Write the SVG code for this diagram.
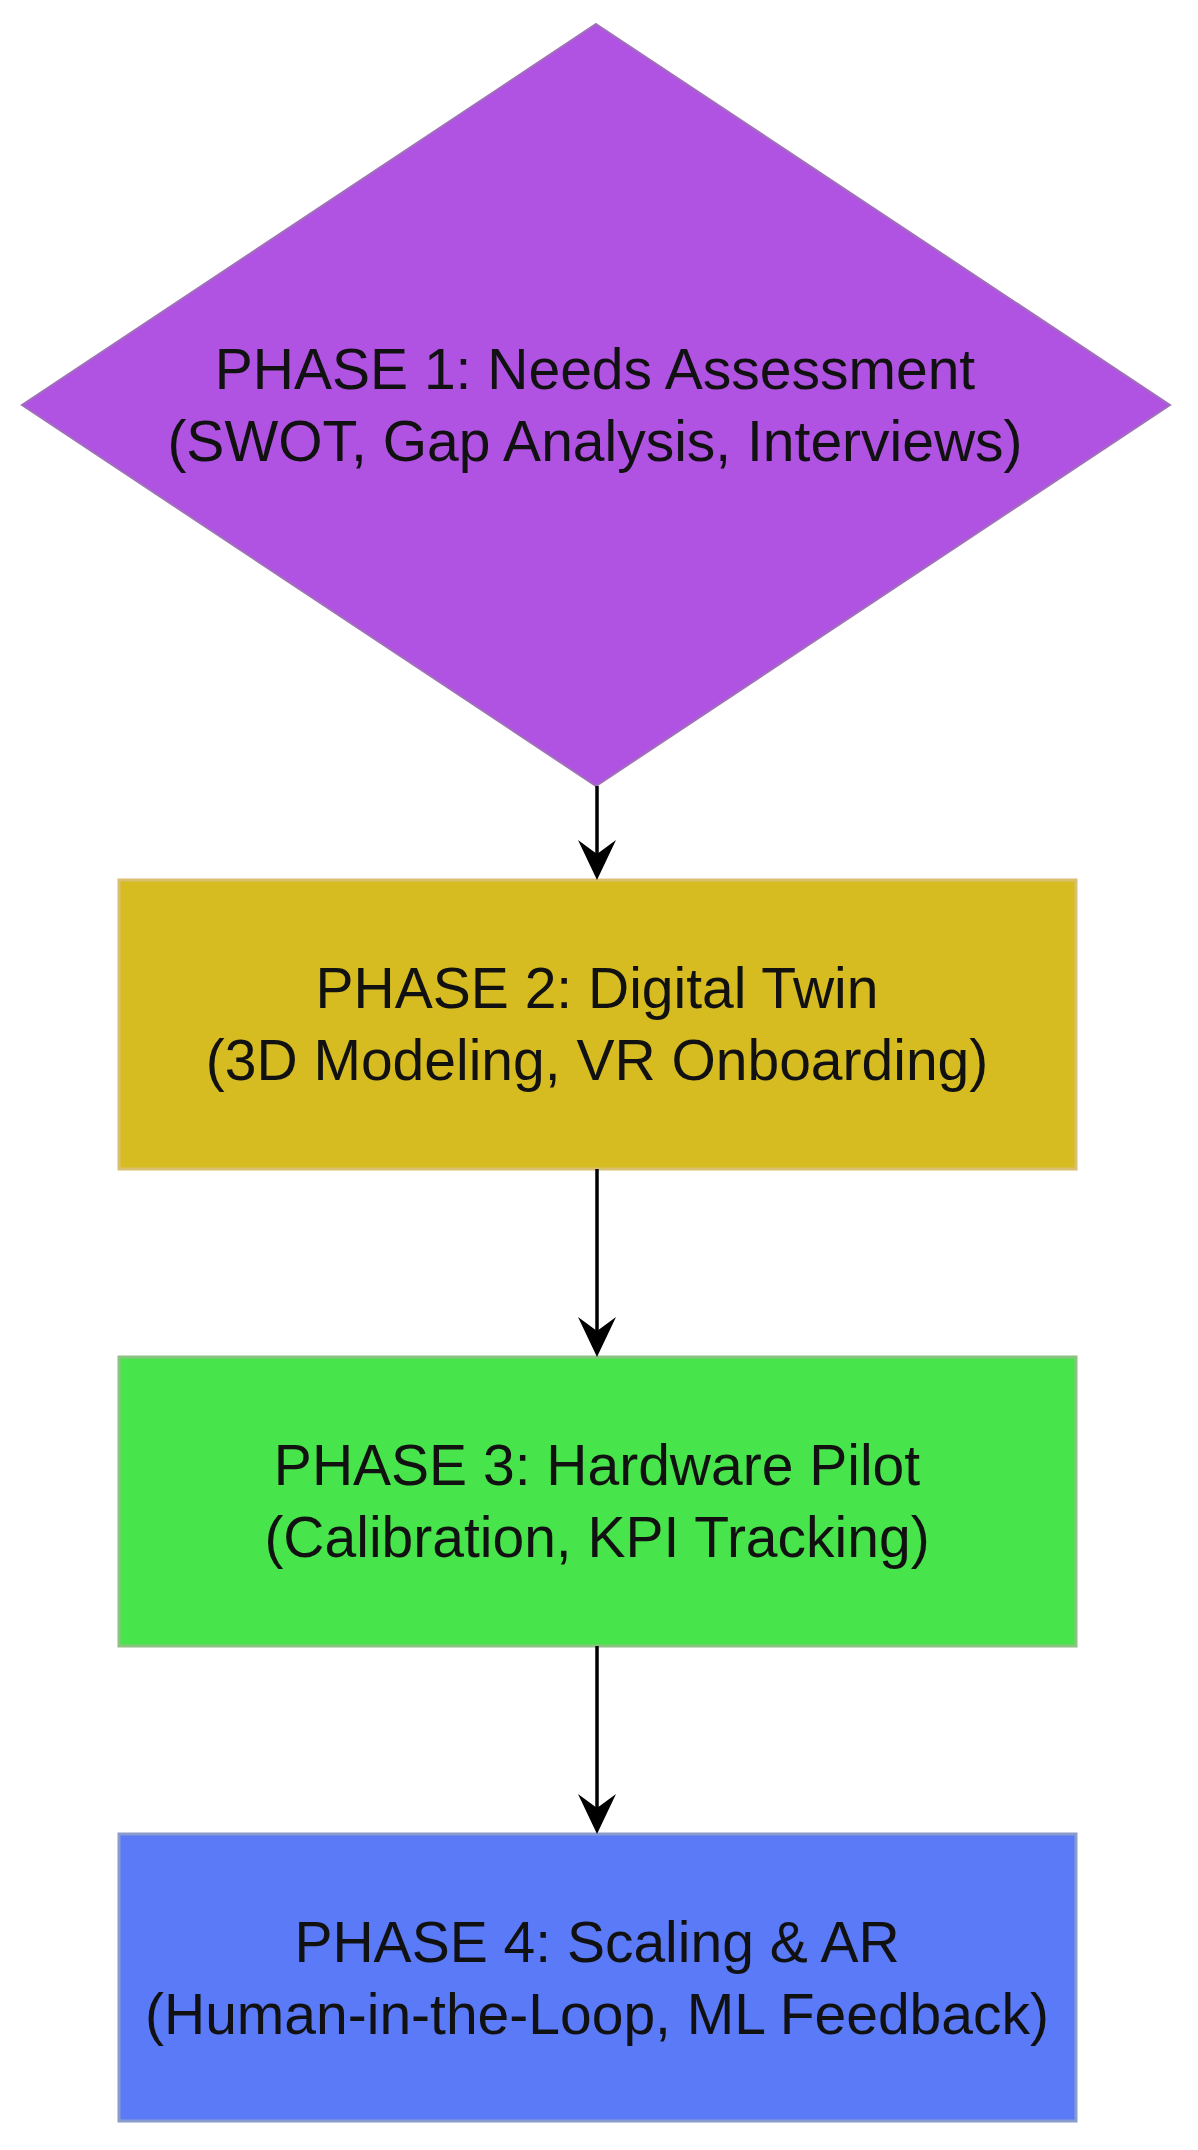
<svg xmlns="http://www.w3.org/2000/svg" width="1198" height="2150" viewBox="0 0 1198 2150">
<style>
.lbl{font-family:"Liberation Sans",Arial,sans-serif;font-size:57px;fill:#111;text-anchor:middle}
.box{stroke-width:3}
.conn{stroke:#000;stroke-width:3.5;fill:none}
</style>
<defs>
<marker id="arr" viewBox="0 0 40 40" refX="20" refY="20" markerWidth="40" markerHeight="40" markerUnits="userSpaceOnUse" orient="auto">
<path d="M0,1 L40,20 L0,39 L14,20 Z" fill="#000"/>
</marker>
</defs>
<rect width="1198" height="2150" fill="#fff"/>
<g id="phase1">
<polygon points="596,24 1170,405 596,786 22,405" fill="#B052E2" stroke="#a070b8" stroke-width="2"/>
<text class="lbl" x="595" y="389">PHASE 1: Needs Assessment</text>
<text class="lbl" x="595" y="461">(SWOT, Gap Analysis, Interviews)</text>
</g>
<g id="phase2">
<rect class="box" x="119" y="880" width="957" height="289" fill="#D6BC20" stroke="#D9C070"/>
<text class="lbl" x="597" y="1008">PHASE 2: Digital Twin</text>
<text class="lbl" x="597" y="1080">(3D Modeling, VR Onboarding)</text>
</g>
<g id="phase3">
<rect class="box" x="119" y="1357" width="957" height="289" fill="#48E44C" stroke="#8CC282"/>
<text class="lbl" x="597" y="1485">PHASE 3: Hardware Pilot</text>
<text class="lbl" x="597" y="1557">(Calibration, KPI Tracking)</text>
</g>
<g id="phase4">
<rect class="box" x="119" y="1834" width="957" height="287" fill="#5A7AF7" stroke="#8A9CCC"/>
<text class="lbl" x="597" y="1962">PHASE 4: Scaling &amp; AR</text>
<text class="lbl" x="597" y="2034">(Human-in-the-Loop, ML Feedback)</text>
</g>
<g id="connectors">
<line class="conn" x1="597" y1="786" x2="597" y2="860" marker-end="url(#arr)"/>
<line class="conn" x1="597" y1="1169" x2="597" y2="1337" marker-end="url(#arr)"/>
<line class="conn" x1="597" y1="1646" x2="597" y2="1814" marker-end="url(#arr)"/>
</g>
</svg>
